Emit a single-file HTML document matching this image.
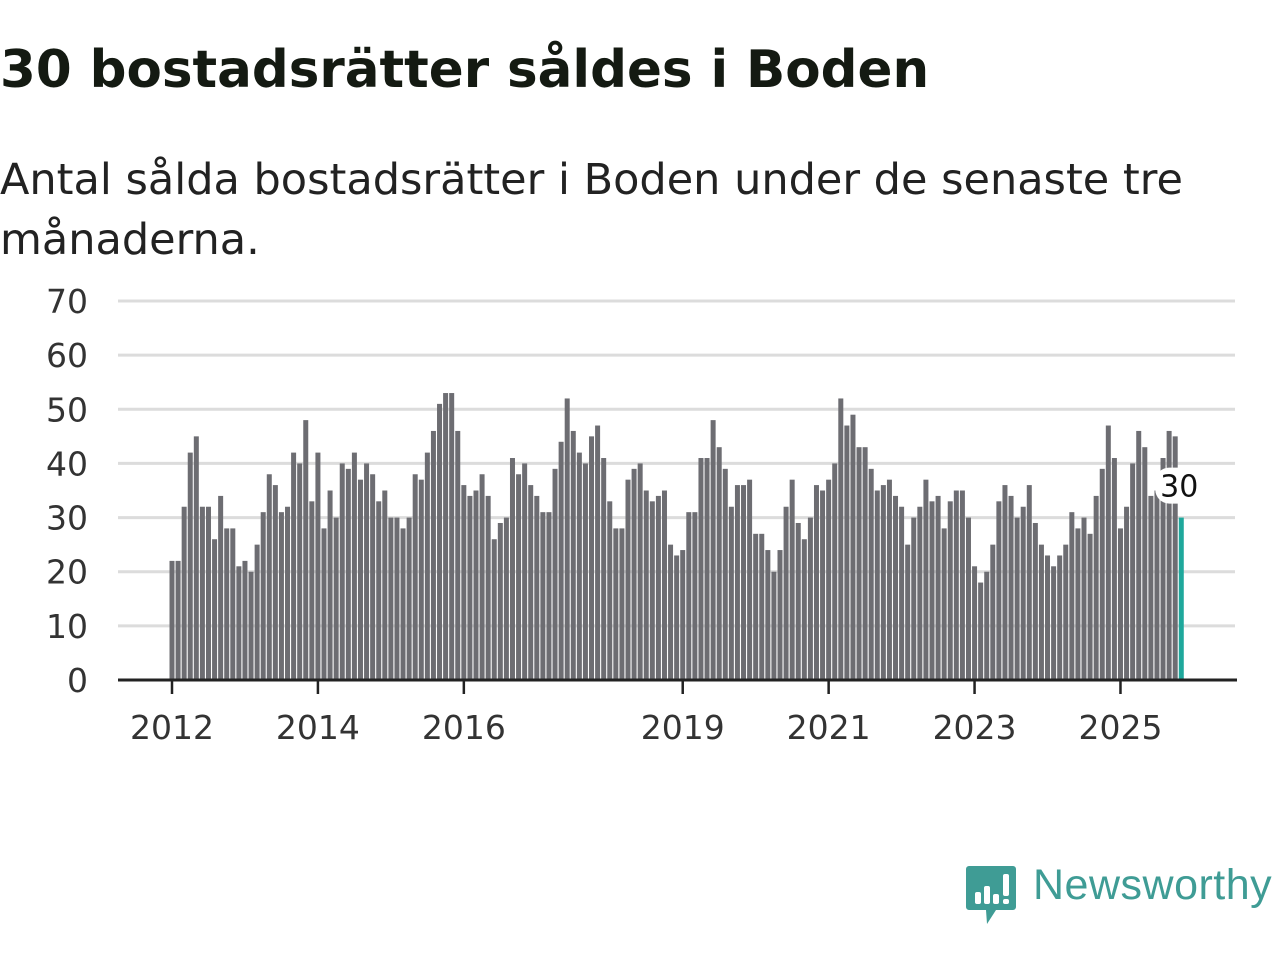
<!DOCTYPE html>
<html><head><meta charset="utf-8">
<style>
body{margin:0;width:1280px;height:960px;background:#fff;overflow:hidden;font-family:"DejaVu Sans","Liberation Sans",sans-serif;color:#111}
h1{position:absolute;left:0;top:40px;margin:0;font-size:51.5px;font-weight:bold;color:#141a12;white-space:nowrap}
.sub{position:absolute;left:0;top:150px;margin:0;font-size:43px;line-height:60px;color:#222;width:1240px}
svg{position:absolute;left:0;top:0}
</style></head><body>
<h1>30 bostadsrätter såldes i Boden</h1>
<p class="sub">Antal sålda bostadsrätter i Boden under de senaste tre månaderna.</p>
<svg id="chart" width="1280" height="960"></svg>
<div style="position:absolute;left:966px;top:866px">
<svg width="50" height="60" style="position:static"><path d="M3 0h44a3 3 0 0 1 3 3v38a3 3 0 0 1-3 3H30l-9 14-1-14H3a3 3 0 0 1-3-3V3a3 3 0 0 1 3-3z" fill="#3f9c95"/><rect x="9" y="26" width="6" height="12" rx="2" fill="#fff"/><rect x="18" y="20" width="6" height="18" rx="2" fill="#fff"/><rect x="27" y="28" width="6" height="10" rx="2" fill="#fff"/><rect x="37" y="8" width="6" height="22" rx="2" fill="#fff"/><rect x="37" y="33" width="6" height="5" rx="2" fill="#fff"/></svg>
<span style="position:absolute;left:67px;top:-5px;font-size:43px;color:#3f9c95;white-space:nowrap;font-family:'Liberation Sans',sans-serif;letter-spacing:0.5px">Newsworthy</span>
</div>
<script>
const values=[22,22,32,42,45,32,32,26,34,28,28,21,
22,20,25,31,38,36,31,32,42,40,48,33,
42,28,35,30,40,39,42,37,40,38,33,35,
30,30,28,30,38,37,42,46,51,53,53,46,
36,34,35,38,34,26,29,30,41,38,40,36,
34,31,31,39,44,52,46,42,40,45,47,41,
33,28,28,37,39,40,35,33,34,35,25,23,
24,31,31,41,41,48,43,39,32,36,36,37,
27,27,24,20,24,32,37,29,26,30,36,35,
37,40,52,47,49,43,43,39,35,36,37,34,
32,25,30,32,37,33,34,28,33,35,35,30,
21,18,20,25,33,36,34,30,32,36,29,25,
23,21,23,25,31,28,30,27,34,39,47,41,
28,32,40,46,43,34,35,41,46,45,30];
const yTicks=[0,10,20,30,40,50,60,70];
const xTickYears=[2012,2014,2016,2019,2021,2023,2025];
const NS="http://www.w3.org/2000/svg";
const svg=document.getElementById('chart');
const x0=172,step=6.08,y0=680,yk=(680-301)/70;
const xs=i=>x0+i*step;
const ys=v=>y0-v*yk;
const FONT='DejaVu Sans, Liberation Sans, sans-serif';
function mk(t,a){const e=document.createElementNS(NS,t);for(const k in a)e.setAttribute(k,a[k]);svg.appendChild(e);return e;}
yTicks.forEach(v=>{
  if(v>0){const g=mk('line',{x1:118,x2:1235,y1:ys(v),y2:ys(v),stroke:'#dcdcdc','stroke-width':3});
  
  }
  const t=mk('text',{x:88,y:ys(v)+12,'text-anchor':'end','font-size':33,fill:'#333','font-family':FONT});
  t.textContent=v;
  
  
});
values.forEach((v,i)=>{
  const last=i===values.length-1;
  const r=mk('rect',{x:xs(i)-2.5,y:ys(v),width:5,height:y0-ys(v),fill:last?'#1fa89c':'#6d6d72'});
  
  
});
const ax=mk('line',{x1:118,x2:1237,y1:y0,y2:y0,stroke:'#222','stroke-width':3});


xTickYears.forEach(yr=>{
  const x=xs((yr-2012)*12);
  const l=mk('line',{x1:x,x2:x,y1:y0,y2:y0+14,stroke:'#222','stroke-width':2.5});
  
  
  const t=mk('text',{x:x,y:739,'text-anchor':'middle','font-size':33,fill:'#333','font-family':FONT});
  t.textContent=yr;
  
  
});
const li=values.length-1;
const bg=mk('rect',{x:xs(li)-26,y:ys(values[li])-50,width:48,height:36,rx:14,fill:'#fff'});


const lt=mk('text',{x:xs(li)-2,y:ys(values[li])-21,'text-anchor':'middle','font-size':30,fill:'#111','font-family':FONT});
lt.textContent=values[li];


</script>
</body></html>
